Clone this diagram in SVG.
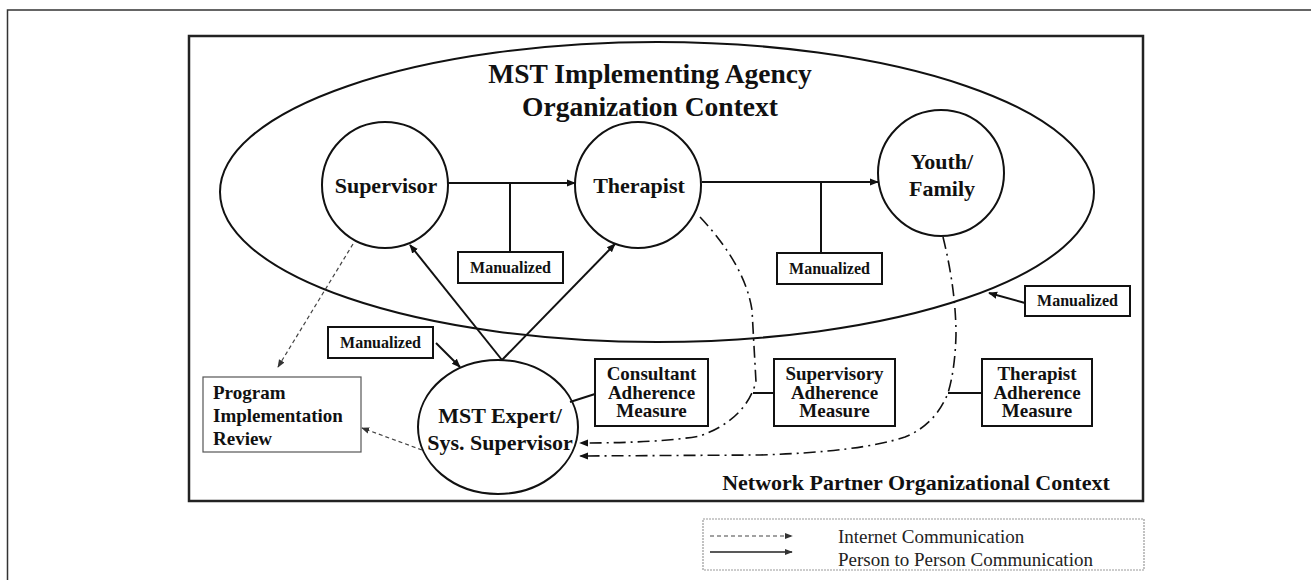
<svg xmlns="http://www.w3.org/2000/svg" width="1311" height="580" viewBox="0 0 1311 580">
<defs>
<marker id="ah" viewBox="0 0 10 10" refX="9" refY="5" markerWidth="9" markerHeight="9" markerUnits="userSpaceOnUse" orient="auto"><path d="M0,1 L10,5 L0,9 z" fill="#111"/></marker>
<marker id="ahg" viewBox="0 0 10 10" refX="9" refY="5" markerWidth="8" markerHeight="8" markerUnits="userSpaceOnUse" orient="auto"><path d="M0,1 L10,5 L0,9 z" fill="#333"/></marker>
<style>
.t{font-family:"Liberation Serif","Times New Roman",serif;font-weight:bold;fill:#111;text-anchor:middle}
.node{fill:none;stroke:#111;stroke-width:2}
.box{fill:#fff;stroke:#111;stroke-width:2}
.solid{fill:none;stroke:#111;stroke-width:2}
.dash{fill:none;stroke:#444;stroke-width:1.2;stroke-dasharray:4 3}
.dd{fill:none;stroke:#111;stroke-width:1.6;stroke-dasharray:12 5 2 5}
.m{font-size:16px}
.a{font-size:19px}
</style>
</defs>
<rect width="1311" height="580" fill="#fff"/>
<path d="M7.5,580 V10 H1311" fill="none" stroke="#333" stroke-width="1.5"/>
<rect x="189" y="36" width="954" height="465" fill="none" stroke="#222" stroke-width="2.5"/>
<g id="agency">
<ellipse cx="657" cy="192" rx="437" ry="150" class="node"/>
<text class="t" x="650" y="83" font-size="27.5">MST Implementing Agency</text>
<text class="t" x="650" y="116" font-size="27.5">Organization Context</text>
</g>
<g id="connectors">
<line x1="448" y1="183" x2="575" y2="183" class="solid" marker-end="url(#ah)"/>
<line x1="702" y1="182" x2="878" y2="182" class="solid" marker-end="url(#ah)"/>
<line x1="510" y1="183" x2="510" y2="252" class="solid"/>
<line x1="821" y1="182" x2="821" y2="253" class="solid"/>
<line x1="502" y1="360" x2="410" y2="245" class="solid" marker-end="url(#ah)"/>
<line x1="502" y1="360" x2="615" y2="244" class="solid" marker-end="url(#ah)"/>
<line x1="436" y1="343" x2="460" y2="367" class="solid" marker-end="url(#ah)"/>
<line x1="1025" y1="303" x2="989" y2="293" class="solid" marker-end="url(#ah)"/>
<line x1="570" y1="402" x2="595" y2="394" class="solid"/>
<line x1="753" y1="393" x2="774" y2="393" class="solid"/>
<line x1="948" y1="393" x2="982" y2="393" class="solid"/>
<line x1="353" y1="244" x2="278" y2="367" class="dash" marker-end="url(#ahg)"/>
<line x1="422" y1="450" x2="362" y2="428" class="dash" marker-end="url(#ahg)"/>
<path d="M700,217 Q745,265 752,310 L756,382 Q745,420 700,436 Q660,443 580,443" class="dd" marker-end="url(#ah)"/>
<path d="M943,237 Q956,290 956,335 Q955,370 948,393 Q935,425 905,437 Q860,452 760,455 L580,456" class="dd" marker-end="url(#ah)"/>
</g>
<g id="supervisor"><circle cx="385" cy="185" r="63" class="node"/><text class="t" x="386" y="193" font-size="22">Supervisor</text></g>
<g id="therapist"><circle cx="638" cy="185" r="63" class="node"/><text class="t" x="639" y="193" font-size="22">Therapist</text></g>
<g id="youth"><circle cx="941" cy="173" r="63" class="node"/><text class="t" x="942" y="169" font-size="22">Youth/</text><text class="t" x="942" y="196" font-size="22">Family</text></g>
<g id="expert"><ellipse cx="498" cy="427" rx="80" ry="67" class="node"/><text class="t" x="500" y="423" font-size="22">MST Expert/</text><text class="t" x="500" y="450" font-size="22">Sys. Supervisor</text></g>
<g id="manualized1"><rect x="458" y="252" width="105" height="31" class="box"/><text class="t m" x="510.5" y="273">Manualized</text></g>
<g id="manualized2"><rect x="777" y="253" width="105" height="31" class="box"/><text class="t m" x="829.5" y="274">Manualized</text></g>
<g id="manualized3"><rect x="1025" y="286" width="105" height="30" class="box"/><text class="t m" x="1077.5" y="306">Manualized</text></g>
<g id="manualized4"><rect x="328" y="327" width="105" height="31" class="box"/><text class="t m" x="380.5" y="348">Manualized</text></g>
<g id="review"><rect x="203" y="377" width="158" height="75" fill="#fff" stroke="#555" stroke-width="1.2"/>
<text class="t" x="213" y="399" font-size="19" style="text-anchor:start">Program</text>
<text class="t" x="213" y="422" font-size="19" style="text-anchor:start">Implementation</text>
<text class="t" x="213" y="445" font-size="19" style="text-anchor:start">Review</text></g>
<g id="consultant"><rect x="595" y="359" width="113" height="67" class="box"/>
<text class="t a" x="651.5" y="380">Consultant</text><text class="t a" x="651.5" y="398.5">Adherence</text><text class="t a" x="651.5" y="417">Measure</text></g>
<g id="supervisory"><rect x="774" y="359" width="121" height="67" class="box"/>
<text class="t a" x="834.5" y="380">Supervisory</text><text class="t a" x="834.5" y="398.5">Adherence</text><text class="t a" x="834.5" y="417">Measure</text></g>
<g id="therapistmeasure"><rect x="982" y="359" width="110" height="67" class="box"/>
<text class="t a" x="1037" y="380">Therapist</text><text class="t a" x="1037" y="398.5">Adherence</text><text class="t a" x="1037" y="417">Measure</text></g>
<g id="network"><text class="t" x="916" y="490" font-size="22">Network Partner Organizational Context</text></g>
<g id="legend">
<rect x="703" y="519" width="441" height="51" fill="#fff" stroke="#999" stroke-width="1.2" stroke-dasharray="2 1"/>
<line x1="710" y1="536" x2="792" y2="536" class="dash" marker-end="url(#ahg)"/>
<line x1="710" y1="552" x2="792" y2="552" stroke="#222" stroke-width="1.5" marker-end="url(#ahg)"/>
<text x="838" y="543" font-family="Liberation Serif, Times New Roman, serif" font-size="19" fill="#222">Internet Communication</text>
<text x="838" y="566" font-family="Liberation Serif, Times New Roman, serif" font-size="19" fill="#222">Person to Person Communication</text>
</g>
</svg>
